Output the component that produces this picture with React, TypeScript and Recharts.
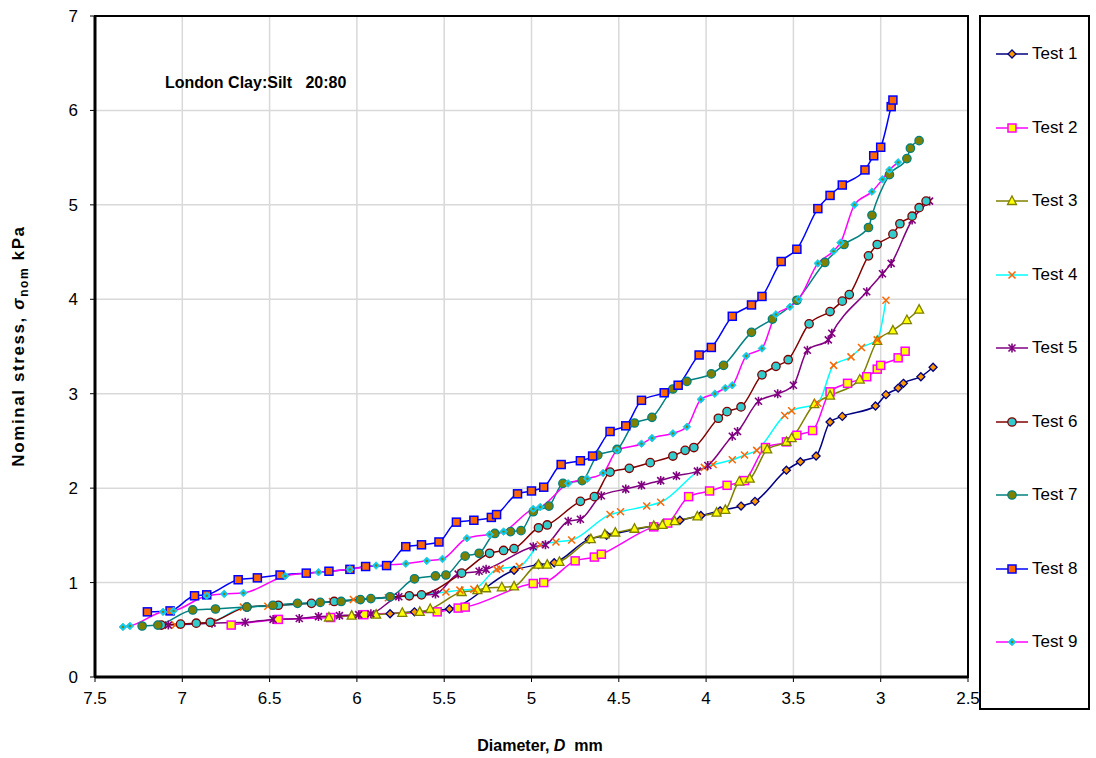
import React from "react";
import { LineChart, Line, XAxis, YAxis, CartesianGrid, Label } from "recharts";

// Diameter D (mm) and nominal stress (kPa), largest D first
const test1Diameter = [5.81, 5.67, 5.47, 5.1, 4.96, 4.87, 4.67, 4.57, 4.15, 4.03, 3.92, 3.8, 3.72, 3.54, 3.46, 3.37, 3.29, 3.22, 3.03, 2.97, 2.9, 2.87, 2.77, 2.7];
const test1Stress = [0.67, 0.69, 0.72, 1.13, 1.19, 1.21, 1.46, 1.5, 1.66, 1.71, 1.76, 1.81, 1.86, 2.19, 2.28, 2.34, 2.7, 2.76, 2.87, 2.99, 3.06, 3.11, 3.18, 3.28];

const test2Diameter = [6.72, 6.45, 6.15, 5.96, 5.54, 5.42, 5.38, 4.99, 4.93, 4.75, 4.64, 4.6, 4.3, 4.22, 4.1, 3.98, 3.88, 3.78, 3.66, 3.54, 3.48, 3.39, 3.29, 3.19, 3.08, 3.02, 3.0, 2.9, 2.86];
const test2Stress = [0.55, 0.61, 0.63, 0.66, 0.69, 0.73, 0.74, 0.99, 1.0, 1.23, 1.27, 1.3, 1.59, 1.63, 1.91, 1.97, 2.03, 2.08, 2.43, 2.49, 2.56, 2.61, 3.02, 3.11, 3.18, 3.26, 3.3, 3.38, 3.45];

const test3Diameter = [6.16, 6.03, 5.89, 5.74, 5.64, 5.58, 5.4, 5.31, 5.26, 5.17, 5.1, 4.96, 4.91, 4.84, 4.66, 4.58, 4.52, 4.41, 4.3, 4.25, 4.18, 4.05, 3.94, 3.89, 3.81, 3.75, 3.65, 3.54, 3.51, 3.38, 3.29, 3.12, 3.02, 2.93, 2.85, 2.78];
const test3Stress = [0.63, 0.65, 0.66, 0.68, 0.69, 0.72, 0.9, 0.92, 0.94, 0.95, 0.96, 1.19, 1.19, 1.22, 1.46, 1.51, 1.53, 1.57, 1.6, 1.61, 1.65, 1.7, 1.74, 1.77, 2.07, 2.1, 2.41, 2.49, 2.53, 2.89, 2.98, 3.15, 3.56, 3.67, 3.78, 3.89];

const test4Diameter = [7.04, 6.83, 6.65, 6.51, 6.14, 6.02, 5.82, 5.49, 5.41, 5.33, 5.2, 5.18, 5.07, 4.95, 4.86, 4.77, 4.55, 4.49, 4.34, 4.26, 4.01, 3.96, 3.85, 3.78, 3.71, 3.55, 3.51, 3.36, 3.27, 3.17, 3.11, 3.02, 2.97];
const test4Stress = [0.55, 0.58, 0.74, 0.75, 0.8, 0.82, 0.84, 0.9, 0.92, 0.93, 1.14, 1.15, 1.17, 1.4, 1.43, 1.45, 1.72, 1.75, 1.81, 1.85, 2.22, 2.25, 2.3, 2.35, 2.4, 2.77, 2.82, 2.9, 3.3, 3.39, 3.49, 3.57, 3.99];

const test5Diameter = [7.08, 6.83, 6.64, 6.48, 6.33, 6.22, 6.1, 5.99, 5.92, 5.76, 5.55, 5.42, 5.3, 5.26, 4.99, 4.92, 4.79, 4.72, 4.6, 4.46, 4.37, 4.26, 4.17, 4.05, 3.99, 3.85, 3.82, 3.7, 3.59, 3.5, 3.42, 3.3, 3.28, 3.08, 2.99, 2.94, 2.82, 2.72];
const test5Stress = [0.55, 0.57, 0.58, 0.61, 0.62, 0.64, 0.65, 0.66, 0.67, 0.85, 0.88, 1.09, 1.12, 1.14, 1.38, 1.4, 1.65, 1.67, 1.92, 1.99, 2.03, 2.08, 2.13, 2.18, 2.24, 2.55, 2.6, 2.92, 3.0, 3.09, 3.46, 3.57, 3.64, 4.08, 4.27, 4.38, 4.84, 5.04];

const test6Diameter = [7.12, 7.01, 6.92, 6.84, 6.63, 6.45, 6.26, 6.13, 5.7, 5.63, 5.4, 5.24, 5.16, 5.1, 4.96, 4.91, 4.72, 4.64, 4.55, 4.44, 4.32, 4.19, 4.12, 4.07, 3.93, 3.88, 3.8, 3.68, 3.6, 3.53, 3.41, 3.29, 3.22, 3.18, 3.07, 3.02, 2.93, 2.89, 2.82, 2.78, 2.74];
const test6Stress = [0.55, 0.56, 0.57, 0.58, 0.74, 0.76, 0.78, 0.8, 0.86, 0.87, 1.1, 1.31, 1.34, 1.36, 1.58, 1.61, 1.86, 1.91, 2.17, 2.21, 2.27, 2.34, 2.4, 2.43, 2.74, 2.81, 2.86, 3.2, 3.29, 3.36, 3.74, 3.87, 3.98, 4.05, 4.46, 4.58, 4.69, 4.8, 4.88, 4.97, 5.04];

const test7Diameter = [7.23, 7.14, 6.94, 6.81, 6.63, 6.48, 6.34, 6.21, 6.09, 5.98, 5.92, 5.81, 5.67, 5.55, 5.49, 5.38, 5.3, 5.21, 5.12, 5.06, 4.99, 4.9, 4.82, 4.71, 4.62, 4.51, 4.41, 4.31, 4.19, 4.11, 3.97, 3.9, 3.74, 3.62, 3.48, 3.32, 3.21, 3.07, 3.05, 2.95, 2.85, 2.83, 2.78];
const test7Stress = [0.54, 0.55, 0.71, 0.72, 0.74, 0.76, 0.78, 0.79, 0.8, 0.82, 0.83, 0.85, 1.04, 1.07, 1.08, 1.28, 1.31, 1.52, 1.54, 1.55, 1.75, 1.81, 2.05, 2.08, 2.35, 2.41, 2.69, 2.75, 3.05, 3.13, 3.21, 3.3, 3.65, 3.79, 3.99, 4.39, 4.58, 4.76, 4.89, 5.32, 5.49, 5.6, 5.68];

const test8Diameter = [7.2, 7.07, 6.93, 6.86, 6.68, 6.57, 6.44, 6.29, 6.16, 6.04, 5.95, 5.83, 5.72, 5.63, 5.53, 5.43, 5.33, 5.23, 5.2, 5.08, 5.0, 4.93, 4.83, 4.72, 4.65, 4.55, 4.46, 4.37, 4.24, 4.16, 4.04, 3.97, 3.85, 3.74, 3.68, 3.57, 3.48, 3.36, 3.29, 3.22, 3.09, 3.04, 3.0, 2.94, 2.93];
const test8Stress = [0.69, 0.7, 0.86, 0.87, 1.03, 1.05, 1.08, 1.1, 1.12, 1.14, 1.17, 1.18, 1.38, 1.4, 1.43, 1.64, 1.66, 1.69, 1.72, 1.94, 1.97, 2.01, 2.25, 2.29, 2.34, 2.6, 2.66, 2.93, 3.01, 3.09, 3.41, 3.49, 3.82, 3.94, 4.03, 4.4, 4.53, 4.96, 5.1, 5.21, 5.37, 5.52, 5.61, 6.04, 6.11];

const test9Diameter = [7.34, 7.3, 7.11, 7.05, 6.86, 6.76, 6.65, 6.41, 6.22, 6.04, 5.89, 5.72, 5.6, 5.51, 5.37, 5.24, 5.16, 4.99, 4.95, 4.79, 4.68, 4.59, 4.51, 4.37, 4.31, 4.19, 4.11, 4.03, 3.95, 3.89, 3.85, 3.77, 3.68, 3.6, 3.52, 3.47, 3.36, 3.27, 3.23, 3.15, 3.05, 2.99, 2.95, 2.9];
const test9Stress = [0.53, 0.54, 0.69, 0.7, 0.86, 0.88, 0.89, 1.07, 1.11, 1.14, 1.18, 1.2, 1.23, 1.25, 1.47, 1.51, 1.54, 1.78, 1.8, 2.05, 2.1, 2.16, 2.4, 2.47, 2.53, 2.58, 2.65, 2.94, 3.0, 3.06, 3.09, 3.4, 3.48, 3.84, 3.92, 4.0, 4.38, 4.51, 4.6, 5.0, 5.14, 5.27, 5.37, 5.45];

const xTicks = [7.5, 7, 6.5, 6, 5.5, 5, 4.5, 4, 3.5, 3, 2.5];
const yTicks = [0, 1, 2, 3, 4, 5, 6, 7];

const toPoints = (d: number[], s: number[]) => d.map((x, i) => ({ x, y: s[i] }));

const series = [
  { name: "Test 1", data: toPoints(test1Diameter, test1Stress), line: "#000080", shape: "diamond", fill: "#ff9900", stroke: "#000080" },
  { name: "Test 2", data: toPoints(test2Diameter, test2Stress), line: "#ff00ff", shape: "square", fill: "#ffff00", stroke: "#ff00ff" },
  { name: "Test 3", data: toPoints(test3Diameter, test3Stress), line: "#808000", shape: "triangle", fill: "#ffff00", stroke: "#808000" },
  { name: "Test 4", data: toPoints(test4Diameter, test4Stress), line: "#00ffff", shape: "x", fill: "none", stroke: "#ff6600" },
  { name: "Test 5", data: toPoints(test5Diameter, test5Stress), line: "#800080", shape: "star", fill: "none", stroke: "#800080" },
  { name: "Test 6", data: toPoints(test6Diameter, test6Stress), line: "#800000", shape: "circle", fill: "#33cccc", stroke: "#800000" },
  { name: "Test 7", data: toPoints(test7Diameter, test7Stress), line: "#008080", shape: "circle", fill: "#808000", stroke: "#008080" },
  { name: "Test 8", data: toPoints(test8Diameter, test8Stress), line: "#0000ff", shape: "square", fill: "#ff6600", stroke: "#0000ff" },
  { name: "Test 9", data: toPoints(test9Diameter, test9Stress), line: "#ff00ff", shape: "dot", fill: "#00ccff", stroke: "#33cccc" },
];

type S = (typeof series)[number];

const Marker = ({ cx, cy, s }: { cx: number; cy: number; s: S }) => {
  switch (s.shape) {
    case "diamond":
      return <polygon points={`${cx},${cy - 4} ${cx + 4},${cy} ${cx},${cy + 4} ${cx - 4},${cy}`} fill={s.fill} stroke={s.stroke} strokeWidth={1.3} />;
    case "square":
      return <rect x={cx - 4} y={cy - 4} width={8} height={8} fill={s.fill} stroke={s.stroke} strokeWidth={1.5} />;
    case "triangle":
      return <polygon points={`${cx},${cy - 5} ${cx + 4.5},${cy + 3.5} ${cx - 4.5},${cy + 3.5}`} fill={s.fill} stroke={s.stroke} strokeWidth={1.3} />;
    case "x":
      return <path d={`M${cx - 3.5},${cy - 3.5}L${cx + 3.5},${cy + 3.5}M${cx - 3.5},${cy + 3.5}L${cx + 3.5},${cy - 3.5}`} stroke={s.stroke} strokeWidth={1.5} />;
    case "star":
      return <path d={`M${cx - 3.5},${cy - 3.5}L${cx + 3.5},${cy + 3.5}M${cx - 3.5},${cy + 3.5}L${cx + 3.5},${cy - 3.5}M${cx},${cy - 4.5}L${cx},${cy + 4.5}`} stroke={s.stroke} strokeWidth={1.6} />;
    case "circle":
      return <circle cx={cx} cy={cy} r={4.2} fill={s.fill} stroke={s.stroke} strokeWidth={1.3} />;
    default:
      return (
        <g>
          <polygon points={`${cx},${cy - 3.8} ${cx + 3.8},${cy} ${cx},${cy + 3.8} ${cx - 3.8},${cy}`} fill={s.fill} stroke={s.stroke} strokeWidth={1} />
          <circle cx={cx} cy={cy} r={1.2} fill="#808000" />
        </g>
      );
  }
};

const font = "'Liberation Sans', Arial, sans-serif";

export default function App() {
  return (
    <div style={{ position: "absolute", left: 0, top: 0, width: 1096, height: 758, background: "#fff", fontFamily: font }}>
      <LineChart width={1000} height={758} margin={{ top: 16, right: 32, left: 0, bottom: 0 }}>
        <CartesianGrid stroke="#d9d9d9" strokeWidth={1.5} />
        <XAxis
          dataKey="x"
          type="number"
          domain={[2.5, 7.5]}
          reversed
          ticks={xTicks}
          interval={0}
          height={81}
          allowDuplicatedCategory={false}
          tick={{ fill: "#000", fontSize: 17, fontFamily: font }}
          tickSize={5}
          tickMargin={10}
          tickLine={{ stroke: "#000" }}
          axisLine={{ stroke: "#000", strokeWidth: 3 }}
        >
          <Label
            content={() => (
              <text x={540} y={751} textAnchor="middle" fontSize={16} fontWeight="bold" fontFamily={font} fill="#000">
                Diameter, <tspan fontStyle="italic">D</tspan>{"\u00a0\u00a0"}mm
              </text>
            )}
          />
        </XAxis>
        <YAxis
          type="number"
          domain={[0, 7]}
          ticks={yTicks}
          width={95}
          tick={{ fill: "#000", fontSize: 17, fontFamily: font }}
          tickSize={5}
          tickMargin={12}
          tickLine={{ stroke: "#000" }}
          axisLine={{ stroke: "#000", strokeWidth: 3 }}
        >
          <Label
            content={() => (
              <text x={24} y={346} transform="rotate(-90 24 346)" textAnchor="middle" fontSize={17} letterSpacing={1.6} fontWeight="bold" fontFamily={font} fill="#000">
                Nominal stress, <tspan fontStyle="italic">σ</tspan>
                <tspan fontSize={12} dy={4}>nom</tspan>
                <tspan dy={-4}>{" kPa"}</tspan>
              </text>
            )}
          />
        </YAxis>
        {series.map((s) => (
          <Line
            key={s.name}
            data={s.data}
            dataKey="y"
            name={s.name}
            type="monotone"
            stroke={s.line}
            strokeWidth={1.5}
            isAnimationActive={false}
            dot={(p: any) => <Marker key={`${s.name}-${p.index}`} cx={p.cx} cy={p.cy} s={s} />}
            activeDot={false}
          />
        ))}
      </LineChart>
      {/* plot frame */}
      <div style={{ position: "absolute", left: 94, top: 15, width: 875, height: 663, border: "2px solid #000", boxSizing: "border-box", pointerEvents: "none" }} />
      <div style={{ position: "absolute", left: 165, top: 74, fontSize: 16, fontWeight: "bold", whiteSpace: "pre" }}>London Clay:Silt   20:80</div>
      {/* legend */}
      <div style={{ position: "absolute", left: 979, top: 15, width: 111, height: 695, border: "2px solid #000", boxSizing: "border-box" }}>
        {series.map((s, i) => (
          <div key={s.name} style={{ position: "absolute", left: 15, top: 26 + i * 73.5, height: 22, display: "flex", alignItems: "center" }}>
            <svg width={32} height={14}>
              <line x1={0} y1={7} x2={32} y2={7} stroke={s.line} strokeWidth={1.5} />
              <Marker cx={16} cy={7} s={s} />
            </svg>
            <span style={{ fontSize: 17, marginLeft: 4 }}>{s.name}</span>
          </div>
        ))}
      </div>
    </div>
  );
}
